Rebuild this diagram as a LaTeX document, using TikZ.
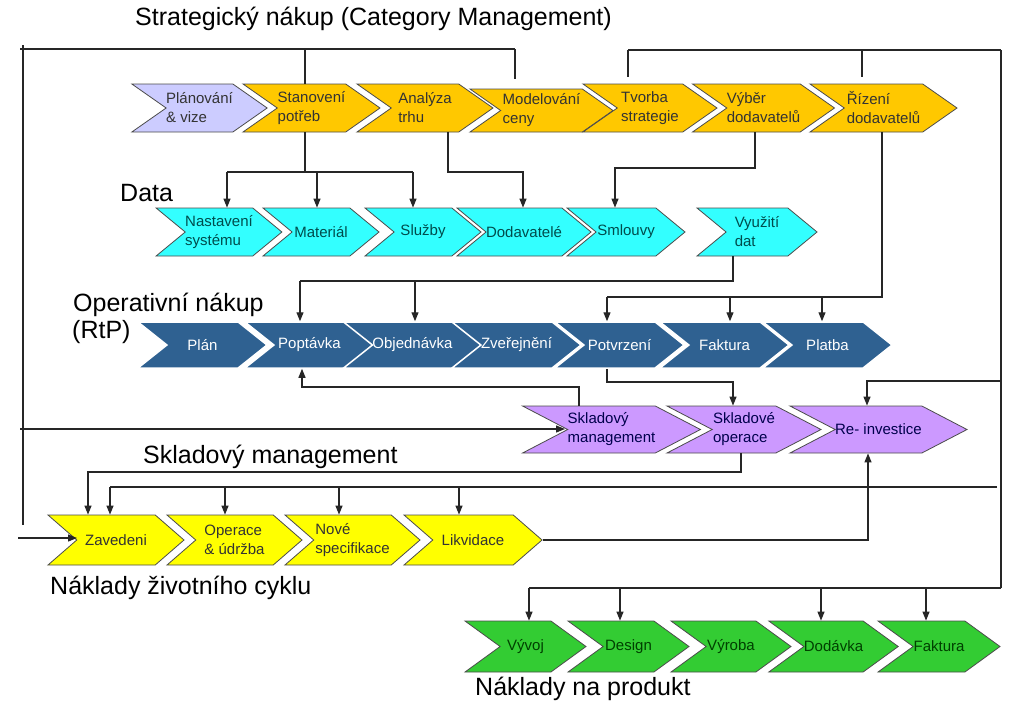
\documentclass[tikz,border=0pt]{standalone}
\usepackage{fontspec}
\setmainfont{Liberation Sans}
\usepackage{tikz}
\usetikzlibrary{arrows.meta,shapes.symbols}

\definecolor{lavender}{HTML}{CCCCFF}
\definecolor{gold}{HTML}{FFC800}
\definecolor{aqua}{HTML}{33FFFF}
\definecolor{steel}{HTML}{2F6191}
\definecolor{lilac}{HTML}{CC99FF}
\definecolor{lemon}{HTML}{FFFF00}
\definecolor{leaf}{HTML}{33CC33}

\tikzset{
  chev/.style={signal, signal from=west, signal to=east, inner sep=0pt, align=left,
    draw=black!70, line width=0.8pt, font=\fontsize{15}{19}\selectfont},
  strat/.style={chev, fill=gold, text=black!80, minimum height=48pt, signal pointer angle=70},
  datachev/.style={chev, fill=aqua, text=teal!60!black, minimum height=48pt, signal pointer angle=79},
  opchev/.style={chev, fill=steel, text=white, draw=white, line width=1.5pt, minimum height=46pt, signal pointer angle=77},
  skladchev/.style={chev, fill=lilac, text=blue!30!black, minimum height=47pt, signal pointer angle=55},
  lifechev/.style={chev, fill=lemon, text=black!80, minimum height=50pt, signal pointer angle=82},
  prodchev/.style={chev, fill=leaf, text=green!25!black, minimum height=51pt, signal pointer angle=72},
  rowlabel/.style={anchor=base west, inner sep=0pt, font=\fontsize{25}{30}\selectfont},
  link/.style={line width=1.2pt, black!85},
}

\begin{document}
\begin{tikzpicture}[x=1pt,y=-1pt,>={Triangle[length=9pt,width=7pt]}]
    \useasboundingbox (0,0) rectangle (1024,702);

    % strategicky nakup
    \node[strat, fill=lavender, minimum width=135pt] (plan) at (199.5,108) {Plánování\\\& vize};
    \node[strat, minimum width=137pt] (stan) at (311.5,108) {Stanovení\\potřeb};
    \node[strat, minimum width=136pt] (anal) at (425,108) {Analýza\\trhu};
    \node[strat, minimum width=143pt, minimum height=43pt] (model) at (541.5,110.5) {Modelování\\ceny};
    \node[strat, minimum width=134pt] (tvorba) at (650,108) {Tvorba\\strategie};
    \node[strat, minimum width=133pt] (vyber) at (763.5,108) {Výběr\\dodavatelů};
    \node[strat, minimum width=147pt] (rizeni) at (883.5,108) {Řízení\\dodavatelů};

    % data
    \node[datachev, minimum width=118pt] (nast) at (219,232) {Nastavení\\systému};
    \node[datachev, minimum width=116pt] (mat) at (321,232) {Materiál};
    \node[datachev, minimum width=116pt] (sluz) at (423,232) {Služby};
    \node[datachev, minimum width=114pt] (dod) at (524,232) {Dodavatelé};
    \node[datachev, minimum width=118pt] (smlo) at (626,232) {Smlouvy};
    \node[datachev, minimum width=120pt] (vyuz) at (757,232) {Využití\\dat};

    % operativni nakup
    \node[opchev, minimum width=129pt] (plan2) at (202.5,345) {Plán};
    \node[opchev, minimum width=129pt] (popt) at (309.5,345) {Poptávka};
    \node[opchev, minimum width=129pt] (objed) at (412.5,345) {Objednávka};
    \node[opchev, minimum width=129pt] (zver) at (516.5,345) {Zveřejnění};
    \node[opchev, minimum width=129pt] (potv) at (619.5,345) {Potvrzení};
    \node[opchev, minimum width=129pt] (fakt) at (724.5,345) {Faktura};
    \node[opchev, minimum width=129pt] (plat) at (827.5,345) {Platba};

    % skladovy management
    \node[skladchev, minimum width=157pt] (sklm) at (611.5,429.5) {Skladový\\management};
    \node[skladchev, minimum width=154pt] (sklo) at (744,429.5) {Skladové\\operace};
    \node[skladchev, minimum width=157pt] (reinv) at (878.5,429.5) {Re- investice};

    % naklady zivotniho cyklu
    \node[lifechev, minimum width=136pt] (zav) at (116,540) {Zavedeni};
    \node[lifechev, minimum width=135pt] (oper) at (234.5,540) {Operace\\\& údržba};
    \node[lifechev, minimum width=135pt] (nove) at (352.5,540) {Nové\\specifikace};
    \node[lifechev, minimum width=138pt] (likv) at (473,540) {Likvidace};

    % naklady na produkt
    \node[prodchev, minimum width=121pt] (vyvoj) at (525.5,646.5) {Vývoj};
    \node[prodchev, minimum width=121pt] (design) at (628.5,646.5) {Design};
    \node[prodchev, minimum width=120pt] (vyroba) at (731,646.5) {Výroba};
    \node[prodchev, minimum width=121pt] (dodav) at (833.5,646.5) {Dodávka};
    \node[prodchev, minimum width=122pt] (fakt2) at (939,646.5) {Faktura};

    \node[rowlabel] (tstrat) at (135,25) {Strategický nákup (Category Management)};
    \node[rowlabel] (tdata) at (120,201) {Data};
    \node[rowlabel] (top1) at (73,311) {Operativní nákup};
    \node[rowlabel] (top2) at (72,338) {(RtP)};
    \node[rowlabel] (tsklad) at (143,463) {Skladový management};
    \node[rowlabel] (tlife) at (50,594) {Náklady životního cyklu};
    \node[rowlabel] (tprod) at (475,695) {Náklady na produkt};

    % ramecky
    \draw[link] (20,49) -- (515,49);
    \draw[link] (23,45) -- (23,525);
    \draw[link] (305,49) -- (305,49 |- stan.north);
    \draw[link, shorten >=10pt] (515,49) -- (515,49 |- model.north);
    \draw[link] (628,50) -- (1001,50);
    \draw[link, shorten >=7pt] (628,50) -- (628,50 |- tvorba.north);
    \draw[link, shorten >=7pt] (862,50) -- (862,50 |- rizeni.north);
    \draw[link] (1001,50) -- (1001,588);

    \draw[link] (305,0 |- stan.south) -- (305,172);
    \draw[link] (227,172) -- (413,172);
    \draw[link,->] (227,172) -- (227,172 |- nast.north);
    \draw[link,->] (317,172) -- (317,172 |- mat.north);
    \draw[link,->] (413,172) -- (413,172 |- sluz.north);
    \draw[link,->] (448,0 |- anal.south) |- (523,172) -- (523,0 |- dod.north);
    \draw[link,->] (755,0 |- vyber.south) |- (615,168) -- (615,0 |- smlo.north);

    \draw[link] (733,0 |- vyuz.south) |- (300,281);
    \draw[link,->] (300,281) -- (300,0 |- popt.north);
    \draw[link,->] (415,281) -- (415,0 |- objed.north);
    \draw[link] (882,0 |- rizeni.south) |- (607,297);
    \draw[link,->] (607,297) -- (607,0 |- potv.north);
    \draw[link,->] (730,297) -- (730,0 |- fakt.north);
    \draw[link,->] (822,297) -- (822,0 |- plat.north);

    \draw[link,->] (607,0 |- potv.south) |- (733,382) -- (733,0 |- sklo.north);
    \draw[link,->] (579,0 |- sklm.north) |- (302,387) -- (302,0 |- popt.south);
    \draw[link,->] (1001,381) -| (867,0 |- reinv.north);
    \draw[link,->] (20,429) -- (565,429);

    \draw[link,->] (741,0 |- sklo.south) |- (88,472) -- (88,0 |- zav.north);
    \draw[link] (997,487) -- (110,487);
    \draw[link,->] (110,487) -- (110,0 |- zav.north);
    \draw[link,->] (225,487) -- (225,0 |- oper.north);
    \draw[link,->] (339,487) -- (339,0 |- nove.north);
    \draw[link,->] (459,487) -- (459,0 |- likv.north);
    \draw[link,->] (likv.east) -| (868,0 |- reinv.south);
    \draw[link,->] (18,538) -- (77,538);

    \draw[link] (1001,588) -- (529,588);
    \draw[link,->] (529,588) -- (529,0 |- vyvoj.north);
    \draw[link,->] (620,588) -- (620,0 |- design.north);
    \draw[link,->] (821,588) -- (821,0 |- dodav.north);
    \draw[link,->] (926,588) -- (926,0 |- fakt2.north);
\end{tikzpicture}
\end{document}
